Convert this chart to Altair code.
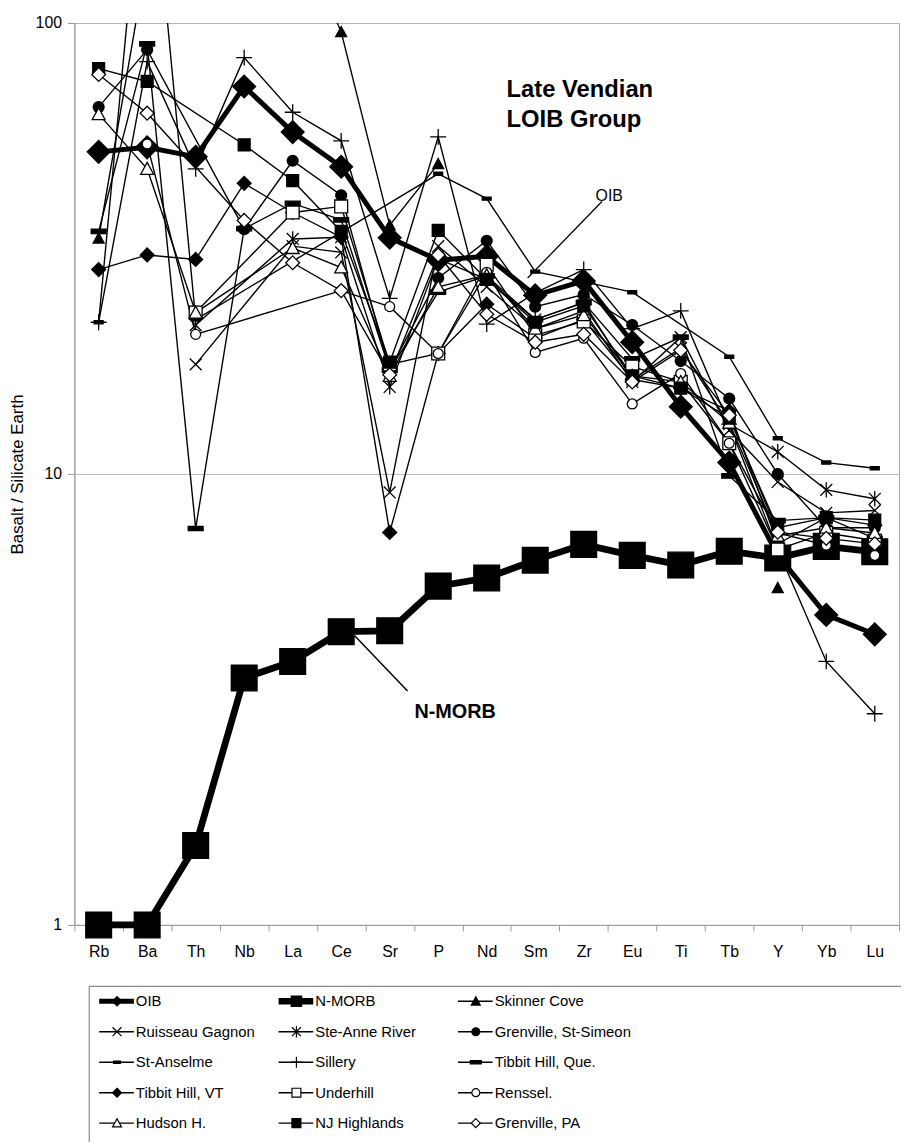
import altair as alt
import pandas as pd

# ---------------- data ----------------
elements = ["Rb", "Ba", "Th", "Nb", "La", "Ce", "Sr", "P", "Nd", "Sm",
            "Zr", "Eu", "Ti", "Tb", "Y", "Yb", "Lu"]

series_names = ["OIB", "N-MORB", "Skinner Cove",
                "Ruisseau Gagnon", "Ste-Anne River", "Grenville, St-Simeon",
                "St-Anselme", "Sillery", "Tibbit Hill, Que.",
                "Tibbit Hill, VT", "Underhill", "Renssel.",
                "Hudson H.", "NJ Highlands", "Grenville, PA"]

oib = [51.8, 53.0, 50.5, 72.3, 57.3, 48.0, 33.4, 29.8, 30.4, 24.9, 26.8, 19.6, 14.1, 10.6, 6.6, 4.87, 4.41]
n_morb = [1.0, 1.0, 1.50, 3.53, 3.84, 4.47, 4.49, 5.64, 5.88, 6.44, 6.98, 6.60, 6.28, 6.74, 6.51, 6.91, 6.72]
skinner_cove = [33.3, 140, None, None, 170, 95.5, 35.6, 48.7, None, None, None, None, None, None, 5.59, None, None]
ruisseau_gagnon = [None, None, 17.5, None, 32.0, 31.0, 9.1, 32.0, 26.0, 21.0, 23.0, 16.0, 20.1, 12.5, 9.6, 8.2, 8.3]
ste_anne_river = [None, None, 21.4, None, 33.2, 33.5, 15.6, 30.0, 27.0, 22.0, 24.0, 16.2, 19.0, 12.9, 11.2, 9.22, 8.81]
grenville_st_simeon = [65.1, 87.3, None, 34.9, 49.5, 41.5, 17.0, 27.2, 32.9, 23.5, 25.0, 21.4, 17.8, 14.7, 10.0, 7.6, 7.6]
st_anselme = [21.7, 300, 22.0, None, None, None, None, 46.3, 40.8, 28.1, None, 25.3, None, 18.2, 12.0, 10.6, 10.3]
sillery = [21.7, 82.1, 47.5, 83.8, 63.4, 54.8, 24.5, 55.9, 21.5, 25.2, 28.4, 21.0, 23.0, 12.9, 6.8, 3.84, 2.94]
tibbit_hill_que = [34.5, 89.9, 7.57, 35.0, 39.8, 36.6, 17.0, 25.3, 27.5, 22.0, 24.0, 18.0, 20.1, 9.9, 7.88, 8.0, 7.2]
tibbit_hill_vt = [28.4, 30.6, 29.9, 44.1, 38.0, 33.5, 7.42, 18.5, 23.8, 20.0, 22.0, 16.2, 15.5, 13.8, 7.0, 8.0, 7.7]
underhill = [None, None, 22.8, None, 38.0, 39.2, 17.5, 18.5, 29.1, 20.3, 21.8, 17.3, 16.0, 11.7, 6.8, 7.4, 7.12]
renssel = [None, 53.9, 20.4, None, None, 25.5, 23.5, 18.5, 28.0, 18.6, 20.0, 14.3, 16.7, 11.7, 7.4, 6.95, 6.6]
hudson_h = [62.8, 47.5, 22.8, None, 31.7, 28.7, 16.5, 26.0, 27.6, 21.0, 22.5, 16.5, 16.0, 13.0, 7.3, 7.6, 7.4]
nj_highlands = [79.2, 74.2, None, 53.7, 44.7, 34.5, 17.7, 34.7, 27.0, 21.7, 23.6, 16.5, 15.5, 13.3, 7.6, 8.0, 7.9]
grenville_pa = [76.9, 63.1, None, 36.5, 29.4, 25.5, 16.6, 30.6, 22.6, 19.6, 20.4, 16.0, 18.8, 13.5, 7.43, 7.2, 7.0]

all_series = [oib, n_morb, skinner_cove, ruisseau_gagnon, ste_anne_river,
              grenville_st_simeon, st_anselme, sillery, tibbit_hill_que,
              tibbit_hill_vt, underhill, renssel, hudson_h, nj_highlands,
              grenville_pa]

# series whose missing values leave a gap in the line
gap_series = ["Skinner Cove"]

# annotations
ann_labels = ["Late Vendian", "LOIB Group", "OIB", "N-MORB"]
ann_elements = ["Nd", "Nd", "Zr", "P"]
ann_values = [68.4, 58.8, 40.4, 2.87]

ptr_names = ["OIB", "N-MORB"]
ptr_from_el = ["Zr", "Sr"]
ptr_from_val = [40.2, 3.30]
ptr_to_el = ["Sm", "Ce"]
ptr_to_val = [27.2, 4.38]

# ---------------- styles ----------------
DIAMOND = "M0,-1L1,0L0,1L-1,0Z"
SQUARE = "M-1,-1H1V1H-1Z"
TRIANGLE = "M0,-1L1,0.85L-1,0.85Z"
XMARK = "M-1,-1L1,1M-1,1L1,-1"
ASTER = "M-1,-1L1,1M-1,1L1,-1M0,-1.3L0,1.3"
CIRCLE = "M1,0A1,1,0,1,1,-1,0A1,1,0,1,1,1,0Z"
SDASH = "M-1,-0.35H1V0.35H-1Z"
TDASH = "M-1,-0.3H1V0.3H-1Z"
PLUS = "M-1,0H1M0,-1V1"

shapes = [DIAMOND, SQUARE, TRIANGLE, XMARK, ASTER, CIRCLE, SDASH, PLUS, TDASH,
          DIAMOND, SQUARE, CIRCLE, TRIANGLE, SQUARE, DIAMOND]
fills = ["black", "black", "black", "black", "black", "black", "black", "black", "black",
         "black", "white", "white", "white", "black", "white"]
sizes = [529, 676, 121, 144, 144, 121, 81, 256, 225, 196, 169, 100, 169, 144, 196]
leg_sizes = [90, 110, 81, 81, 81, 64, 49, 121, 121, 81, 81, 64, 81, 81, 81]
line_widths = [5, 6.8] + [1.4] * 13

# ---------------- tables ----------------
rows = []
for s_i, (name, vals) in enumerate(zip(series_names, all_series)):
    seg = 0
    off = any(v is not None and v > 100 for v in vals)
    for e_i, (el, v) in enumerate(zip(elements, vals)):
        if v is None:
            if name in gap_series:
                seg += 1
            continue
        rows.append(dict(series=name, sidx=s_i, element=el, eidx=e_i,
                         value=v, line_id=f"{name}|{seg}", offchart=off))
df = pd.DataFrame(rows)

ann_df = pd.DataFrame({"label": ann_labels, "element": ann_elements, "value": ann_values})
ptr_df = pd.DataFrame({"name": ptr_names, "element": ptr_from_el, "value": ptr_from_val,
                       "element2": ptr_to_el, "value2": ptr_to_val})
leg_df = pd.DataFrame({"series": series_names,
                       "lx": [i % 3 for i in range(len(series_names))],
                       "ly": [i // 3 for i in range(len(series_names))]})

# ---------------- encodings ----------------
FONT = "Liberation Sans"

x_enc = alt.X("element:N",
              scale=alt.Scale(type="band", domain=elements, paddingInner=0, paddingOuter=0),
              axis=alt.Axis(title=None, labelAngle=0, labelFont=FONT, labelFontSize=16,
                            labelColor="black", tickBand="extent", tickSize=6,
                            tickColor="#9a9a9a", domainColor="#9a9a9a", labelPadding=13,
                            grid=False))
y_enc = alt.Y("value:Q",
              scale=alt.Scale(type="log", domain=[1, 100], nice=False),
              axis=alt.Axis(title="Basalt / Silicate Earth", values=[1, 10, 100], format="d",
                            labelFont=FONT, labelFontSize=16, labelColor="black",
                            tickSize=7, tickColor="#9a9a9a", domainColor="#9a9a9a",
                            labelPadding=6, grid=True, gridColor="#b4b4b4",
                            titleFont=FONT, titleFontSize=17, titleFontWeight="normal",
                            titleColor="black", titlePadding=9))

sw_enc = alt.StrokeWidth("series:N",
                         scale=alt.Scale(type="ordinal", domain=series_names, range=line_widths),
                         legend=None)
shape_enc = alt.Shape("series:N", scale=alt.Scale(domain=series_names, range=shapes), legend=None)
fill_enc = alt.Fill("series:N", scale=alt.Scale(domain=series_names, range=fills), legend=None)

base = alt.Chart(df)

lines_a = base.transform_filter("!datum.offchart").mark_line(color="black").encode(
    x=x_enc, y=y_enc, strokeWidth=sw_enc, detail="line_id:N", order="eidx:Q")
lines_b = base.transform_filter("datum.offchart").mark_line(color="black", clip=True).encode(
    x=x_enc, y=y_enc, strokeWidth=sw_enc, detail="line_id:N", order="eidx:Q")

points = base.transform_filter("datum.value <= 100").mark_point(
    stroke="black", strokeWidth=1.3, opacity=1, filled=False).encode(
    x=x_enc, y=y_enc, shape=shape_enc, fill=fill_enc,
    size=alt.Size("series:N", scale=alt.Scale(type="ordinal", domain=series_names, range=sizes),
                  legend=None))

ann = alt.Chart(ann_df)
t1 = ann.transform_filter("datum.label == 'Late Vendian'").mark_text(
    align="left", baseline="alphabetic", dx=20, font=FONT, fontSize=24, fontWeight="bold",
    color="black").encode(x=x_enc, y=y_enc, text="label:N")
t2 = ann.transform_filter("datum.label == 'LOIB Group'").mark_text(
    align="left", baseline="alphabetic", dx=20, font=FONT, fontSize=24, fontWeight="bold",
    color="black").encode(x=x_enc, y=y_enc, text="label:N")
t3 = ann.transform_filter("datum.label == 'OIB'").mark_text(
    align="left", baseline="alphabetic", dx=12, font=FONT, fontSize=16,
    color="black").encode(x=x_enc, y=y_enc, text="label:N")
t4 = ann.transform_filter("datum.label == 'N-MORB'").mark_text(
    align="left", baseline="alphabetic", dx=-24, font=FONT, fontSize=20, fontWeight="bold",
    color="black").encode(x=x_enc, y=y_enc, text="label:N")

ptr = alt.Chart(ptr_df)
r1 = ptr.transform_filter("datum.name == 'OIB'").mark_rule(
    color="black", strokeWidth=1.3, xOffset=18.4, x2Offset=-7.6).encode(
    x=x_enc, x2=alt.X2("element2"), y=y_enc, y2=alt.Y2("value2"))
r2 = ptr.transform_filter("datum.name == 'N-MORB'").mark_rule(
    color="black", strokeWidth=1.5, xOffset=18, x2Offset=13.6).encode(
    x=x_enc, x2=alt.X2("element2"), y=y_enc, y2=alt.Y2("value2"))

main = alt.layer(lines_a, lines_b, points, r1, r2, t1, t2, t3, t4)

# ---------------- legend (drawn from the legend table) ----------------
lx = alt.X("lx:Q", scale=alt.Scale(domain=[0, 2], range=[43, 405], zero=False, nice=False), axis=None)
ly = alt.Y("ly:Q", scale=alt.Scale(domain=[0, 4], range=[987, 1110], zero=False, nice=False), axis=None)

box = alt.Chart(pd.DataFrame({"k": [0]})).mark_rect(
    fill="transparent", stroke="#8a8a8a", strokeWidth=1.2).encode(
    x=alt.value(15), x2=alt.value(860), y=alt.value(972), y2=alt.value(1170))

leg = alt.Chart(leg_df)
leg_rules = leg.mark_rule(color="black", xOffset=-18, x2Offset=17).encode(
    x=lx, x2=alt.X2("lx"), y=ly, strokeWidth=sw_enc)
leg_points = leg.mark_point(stroke="black", strokeWidth=1.2, opacity=1, filled=False).encode(
    x=lx, y=ly, shape=shape_enc, fill=fill_enc,
    size=alt.Size("series:N", scale=alt.Scale(type="ordinal", domain=series_names, range=leg_sizes),
                  legend=None))
leg_text = leg.mark_text(align="left", baseline="middle", dx=19, font=FONT, fontSize=15,
                         color="black").encode(x=lx, y=ly, text="series:N")

legend = alt.layer(box, leg_rules, leg_points, leg_text)

chart = alt.layer(main, legend).resolve_scale(
    x="independent", y="independent", size="independent"
).properties(
    width=832, height=910,
    autosize=alt.AutoSizeParams(type="none"),
    padding={"left": 67, "top": 10, "right": 2, "bottom": 230},
    background="white",
).configure_view(stroke="#a8a8a8")

chart.save("out.html", embed_options={"renderer": "svg", "actions": False})
